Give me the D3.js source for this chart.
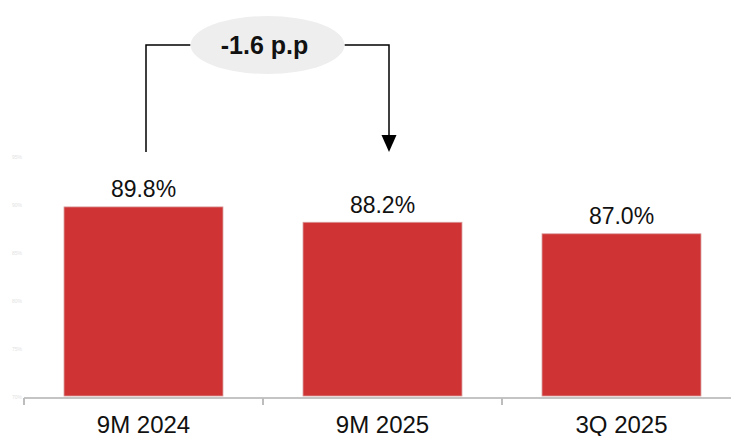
<!DOCTYPE html>
<html>
<head>
<meta charset="utf-8">
<script src="https://cdn.jsdelivr.net/npm/d3@7"></script>
<style>
  html, body { margin: 0; padding: 0; background: #fff; }
  svg { display: block; font-family: "Liberation Sans", Arial, sans-serif; }
</style>
</head>
<body>
<svg id="chart" width="731" height="436"></svg>
<script>
// Period categories and the ratio for each one (percent)
const categories = ["9M 2024", "9M 2025", "3Q 2025"];
const values = [89.8, 88.2, 87.0];
const yTicks = [70, 75, 80, 85, 90, 95];
const changeLabel = "-1.6 p.p";

const svg = d3.select("#chart");

const x = d3.scaleBand()
  .domain(categories)
  .range([24, 741])
  .paddingInner(0.335)
  .paddingOuter(0.1675);

const y = d3.scaleLinear()
  .domain([70, 95])
  .range([397, 157]);

// Faint value axis on the left
const yAxis = svg.append("g")
  .attr("transform", "translate(24,0)")
  .call(d3.axisLeft(y).tickValues(yTicks).tickSize(0).tickPadding(2).tickFormat(d => d + "%"));
yAxis.select(".domain").remove();
yAxis.selectAll("text")
  .attr("fill", "#e2e2e2")
  .style("font-size", "5px")
  .style("font-family", "Liberation Sans, Arial, sans-serif");

// Bars
svg.append("g").selectAll("rect")
  .data(values)
  .join("rect")
  .attr("x", (d, i) => x(categories[i]))
  .attr("width", x.bandwidth())
  .attr("y", d => y(d))
  .attr("height", d => y(70) - 1 - y(d))
  .attr("fill", "#cf3334")
  .attr("stroke", "#d89a9a")
  .attr("stroke-width", 0.8);

// Category axis
const xAxis = svg.append("g")
  .attr("transform", "translate(0,398)")
  .call(d3.axisBottom(x).tickSize(0));
xAxis.select(".domain").remove();
xAxis.selectAll("text")
  .attr("y", 34.5)
  .attr("dy", null)
  .attr("fill", "#111")
  .style("font-size", "24px")
  .style("font-family", "Liberation Sans, Arial, sans-serif");
svg.append("line")
  .attr("x1", 24).attr("x2", 731)
  .attr("y1", 398).attr("y2", 398)
  .attr("stroke", "#c4c4c4").attr("stroke-width", 2);
const bounds = categories.map(c => x(c) - x.step() * x.paddingInner() / 2);
svg.append("g").selectAll("line")
  .data(bounds)
  .join("line")
  .attr("x1", d => d).attr("x2", d => d)
  .attr("y1", 398).attr("y2", 405)
  .attr("stroke", "#bdbdbd").attr("stroke-width", 2);

// Value labels
svg.append("g").selectAll("text")
  .data(values)
  .join("text")
  .attr("x", (d, i) => x(categories[i]) + x.bandwidth() / 2)
  .attr("y", d => y(d) - 9.5)
  .attr("text-anchor", "middle")
  .attr("fill", "#111")
  .style("font-size", "23px")
  .text(d => d.toFixed(1) + "%");

// Change annotation between the first two periods
const xa = x(categories[0]) + x.bandwidth() / 2 + 2.5;
const xb = x(categories[1]) + x.bandwidth() / 2 + 6.5;
const topY = 45;
const cx = (xa + xb) / 2;
const rx = 77, ry = 29;

const ann = svg.append("g");
ann.append("path")
  .attr("d", `M${xa},152 V${topY} H${cx - rx}`)
  .attr("fill", "none").attr("stroke", "#000").attr("stroke-width", 1.5);
ann.append("path")
  .attr("d", `M${cx + rx},${topY} H${xb} V136`)
  .attr("fill", "none").attr("stroke", "#000").attr("stroke-width", 1.5);
ann.append("path")
  .attr("d", `M${xb - 7.5},135 L${xb + 7.5},135 L${xb},152 Z`)
  .attr("fill", "#000");
ann.append("ellipse")
  .attr("cx", cx).attr("cy", topY)
  .attr("rx", rx).attr("ry", ry)
  .attr("fill", "#eeeeee");
ann.append("text")
  .attr("x", cx - 3).attr("y", topY + 9)
  .attr("text-anchor", "middle")
  .attr("fill", "#111")
  .style("font-size", "25px")
  .style("font-weight", "bold")
  .text(changeLabel);
</script>
</body>
</html>
